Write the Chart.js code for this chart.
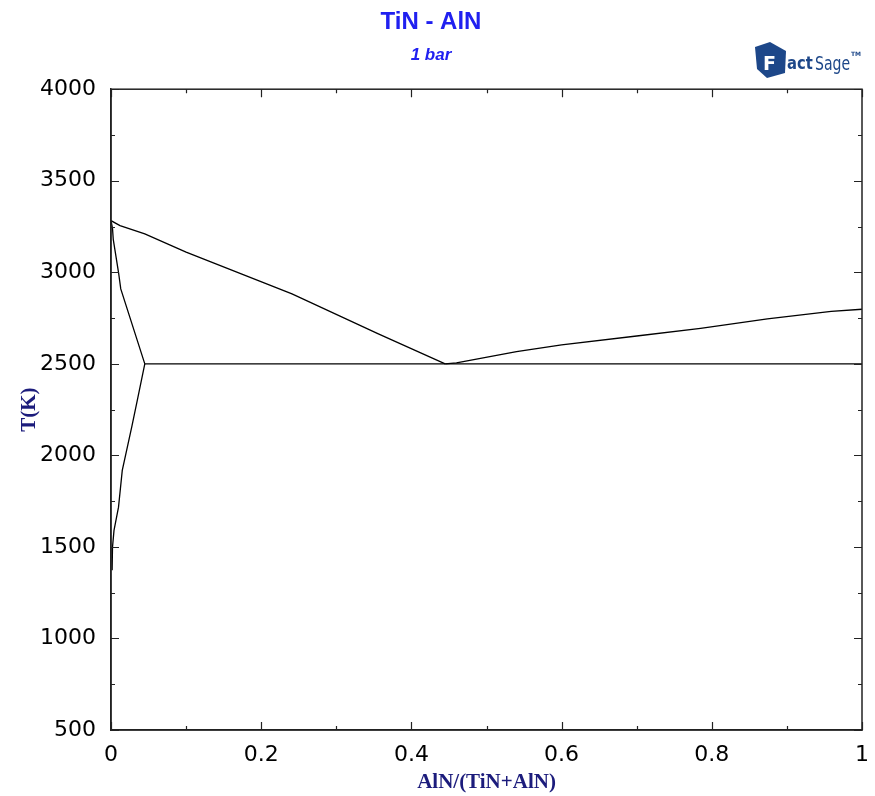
<!DOCTYPE html>
<html><head><meta charset="utf-8">
<script src="https://cdn.jsdelivr.net/npm/chart.js@4/dist/chart.umd.min.js"></script>
<style>html,body{margin:0;padding:0;background:#fff}#wrap{width:875px;height:796px;position:relative}</style>
</head><body><div id="wrap"><canvas id="c" width="875" height="796"></canvas></div>
<script>
// TiN - AlN pseudo-binary phase diagram at 1 bar
// x: mole fraction AlN/(TiN+AlN), y: temperature T(K)
const liquidusTiNX = [0, 0.012, 0.045, 0.10, 0.241, 0.356, 0.445];
const liquidusTiNT = [3282, 3255, 3210, 3110, 2882, 2664, 2500];
const liquidusAlNX = [0.445, 0.46, 0.54, 0.60, 0.70, 0.785, 0.874, 0.959, 1.0];
const liquidusAlNT = [2500, 2505, 2567, 2603, 2652, 2694, 2746, 2787, 2798];
const eutecticX = [0.045, 1.0];
const eutecticT = [2500, 2500];
const solidusX = [0, 0.002, 0.003, 0.010, 0.013, 0.045];
const solidusT = [3282, 3240, 3180, 3000, 2909, 2500];
const solvusX = [0.045, 0.035, 0.028, 0.015, 0.010, 0.004, 0.002, 0.0015];
const solvusT = [2500, 2300, 2163, 1918, 1717, 1590, 1499, 1373];

const xTicks = [0, 0.2, 0.4, 0.6, 0.8, 1];
const xTickLabels = ['0', '0.2', '0.4', '0.6', '0.8', '1'];
const xMinorTicks = [0.1, 0.3, 0.5, 0.7, 0.9];
const yTicks = [500, 1000, 1500, 2000, 2500, 3000, 3500, 4000];
const yTickLabels = ['500', '1000', '1500', '2000', '2500', '3000', '3500', '4000'];
const yMinorTicks = [750, 1250, 1750, 2250, 2750, 3250, 3750];

const toPoints = (xs, ts) => xs.map((v, i) => ({x: v, y: ts[i]}));

const curve = (label, xs, ts) => ({
  label,
  data: toPoints(xs, ts),
  showLine: true,
  borderColor: '#000',
  borderWidth: 1.3,
  pointRadius: 0,
  fill: false,
  tension: 0
});

const navy = '#1c1c7c';
const tickFont = {family: 'DejaVu Sans', size: 22};

// inward ticks on all four sides plus the closed frame
const frameTicks = {
  id: 'frameTicks',
  afterDatasetsDraw(chart) {
    const {ctx, chartArea: a, scales: {x, y}} = chart;
    ctx.save();
    ctx.strokeStyle = '#222';
    ctx.lineWidth = 1.5;
    ctx.strokeRect(a.left, a.top, a.right - a.left, a.bottom - a.top);
    ctx.lineWidth = 1.2;
    ctx.beginPath();
    const xt = (v, len) => {
      const p = Math.round(x.getPixelForValue(v)) + 0.5;
      ctx.moveTo(p, a.bottom); ctx.lineTo(p, a.bottom - len);
      ctx.moveTo(p, a.top); ctx.lineTo(p, a.top + len);
    };
    const yt = (v, len) => {
      const p = Math.round(y.getPixelForValue(v)) + 0.5;
      ctx.moveTo(a.left, p); ctx.lineTo(a.left + len, p);
      ctx.moveTo(a.right, p); ctx.lineTo(a.right - len, p);
    };
    xTicks.forEach(v => xt(v, 8));
    xMinorTicks.forEach(v => xt(v, 4));
    yTicks.forEach(v => yt(v, 8));
    yMinorTicks.forEach(v => yt(v, 4));
    ctx.stroke();
    ctx.restore();
  }
};

// FactSage mark, top right
const logo = {
  id: 'logo',
  afterDraw(chart) {
    const ctx = chart.ctx;
    const blue = '#1d4789';
    ctx.save();
    ctx.fillStyle = blue;
    ctx.beginPath();
    ctx.moveTo(755, 47);
    ctx.lineTo(770, 42);
    ctx.lineTo(786, 51);
    ctx.lineTo(785, 73);
    ctx.lineTo(767, 78);
    ctx.lineTo(757, 69);
    ctx.closePath();
    ctx.fill();
    ctx.fillStyle = '#fff';
    ctx.font = 'bold 19px "DejaVu Sans"';
    ctx.textBaseline = 'alphabetic';
    ctx.fillText('F', 763, 70);
    ctx.fillStyle = blue;
    ctx.save();
    ctx.translate(787, 69);
    ctx.scale(0.82, 1);
    ctx.font = 'bold 18px "DejaVu Sans"';
    ctx.fillText('act', 0, 0);
    ctx.restore();
    ctx.save();
    ctx.translate(815, 70);
    ctx.scale(0.74, 1.05);
    ctx.font = '19px "DejaVu Sans"';
    ctx.fillText('Sage', 0, 0);
    ctx.restore();
    ctx.font = 'bold 6px "DejaVu Sans"';
    ctx.fillText('TM', 851, 56);
    ctx.restore();
  }
};

const whiteBg = {
  id: 'whiteBg',
  beforeDraw(chart) {
    const ctx = chart.ctx;
    ctx.save();
    ctx.fillStyle = '#fff';
    ctx.fillRect(0, 0, chart.width, chart.height);
    ctx.restore();
  }
};

new Chart(document.getElementById('c'), {
  type: 'scatter',
  data: {
    datasets: [
      curve('Liquidus (TiN side)', liquidusTiNX, liquidusTiNT),
      curve('Liquidus (AlN side)', liquidusAlNX, liquidusAlNT),
      curve('Eutectic', eutecticX, eutecticT),
      curve('Solidus', solidusX, solidusT),
      curve('Solvus', solvusX, solvusT)
    ]
  },
  options: {
    responsive: false,
    animation: false,
    layout: {padding: {left: 0, right: 13, top: 0, bottom: 0}},
    plugins: {
      legend: {display: false},
      tooltip: {enabled: false},
      title: {
        display: true,
        text: 'TiN - AlN',
        color: '#2020f0',
        font: {family: 'Liberation Sans', size: 24, weight: 'bold'},
        padding: {top: 8, bottom: 0}
      },
      subtitle: {
        display: true,
        text: '1 bar',
        color: '#2020f0',
        font: {family: 'Liberation Sans', size: 17, weight: 'bold', style: 'italic'},
        padding: {top: 8, bottom: 24}
      }
    },
    scales: {
      x: {
        type: 'linear',
        min: 0, max: 1,
        afterBuildTicks: s => { s.ticks = xTicks.map(v => ({value: v})); },
        afterFit: s => { s.height = 66; s.paddingLeft = 0; s.paddingRight = 0; },
        grid: {display: false, drawTicks: false},
        border: {display: true, color: '#222', width: 1.5},
        ticks: {
          font: tickFont, color: '#000', padding: 12, maxRotation: 0,
          callback: (v, i) => xTickLabels[i]
        },
        title: {
          display: true, text: 'AlN/(TiN+AlN)', color: navy,
          font: {family: 'Liberation Serif', size: 21, weight: 'bold'},
          padding: {top: 0, bottom: 1}
        }
      },
      y: {
        type: 'linear',
        min: 500, max: 4000,
        afterBuildTicks: s => { s.ticks = yTicks.map(v => ({value: v})); },
        afterFit: s => { s.width = 111; },
        grid: {display: false, drawTicks: false},
        border: {display: true, color: '#222', width: 1.5},
        ticks: {
          font: tickFont, color: '#000', padding: 15,
          callback: (v, i) => yTickLabels[i]
        },
        title: {
          display: true, text: 'T(K)', color: navy,
          font: {family: 'Liberation Serif', size: 21, weight: 'bold'},
          padding: {top: 17, bottom: 0}
        }
      }
    }
  },
  plugins: [whiteBg, frameTicks, logo]
});
</script>
</body></html>
